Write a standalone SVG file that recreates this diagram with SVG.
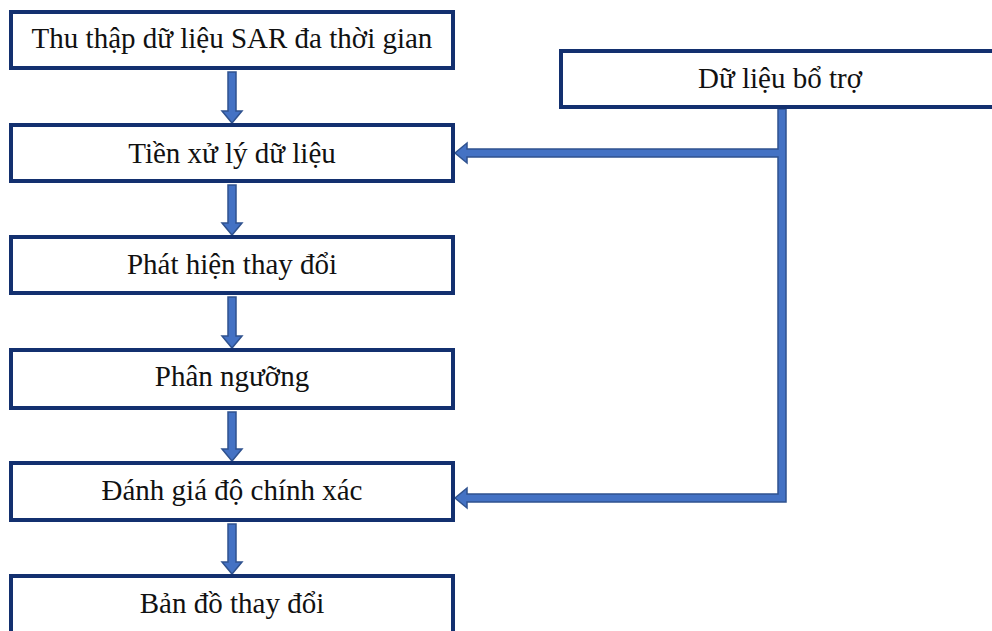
<svg xmlns="http://www.w3.org/2000/svg" width="992" height="631" viewBox="0 0 992 631">
<style>
.box{fill:#ffffff;stroke:#13306f;stroke-width:4}
.lbl{font-family:"Liberation Serif","Times New Roman",serif;font-size:29px;fill:#111111;text-anchor:middle}
.arr{fill:#4472c4;stroke:#2f528f;stroke-width:1.5;stroke-linejoin:miter}
</style>
<rect width="992" height="631" fill="#ffffff"/>
<g id="connectors">
<polygon class="arr" points="228,72 236,72 236,111 242,111 232,123 222,111 228,111"/>
<polygon class="arr" points="228,185 236,185 236,223 242,223 232,235 222,223 228,223"/>
<polygon class="arr" points="228,297 236,297 236,336 242,336 232,348 222,336 228,336"/>
<polygon class="arr" points="228,412 236,412 236,449 242,449 232,461 222,449 228,449"/>
<polygon class="arr" points="228,524 236,524 236,562 242,562 232,574 222,562 228,562"/>
<polygon class="arr" points="778,109 786,109 786,502 467,502 467,508 455,498 467,488 467,494 778,494 778,157 467,157 467,163 455,153 467,143 467,149 778,149"/>
</g>
<g id="n1"><rect class="box" x="11" y="12" width="442" height="56"/><text class="lbl" x="232" y="48">Thu thập dữ liệu SAR đa thời gian</text></g>
<g id="n2"><rect class="box" x="11" y="125" width="442" height="56"/><text class="lbl" x="232" y="163">Tiền xử lý dữ liệu</text></g>
<g id="n3"><rect class="box" x="11" y="237" width="442" height="56"/><text class="lbl" x="232" y="274">Phát hiện thay đổi</text></g>
<g id="n4"><rect class="box" x="11" y="350" width="442" height="58"/><text class="lbl" x="232" y="386">Phân ngưỡng</text></g>
<g id="n5"><rect class="box" x="11" y="463" width="442" height="57"/><text class="lbl" x="232" y="500">Đánh giá độ chính xác</text></g>
<g id="n6"><rect class="box" x="11" y="576" width="442" height="70"/><text class="lbl" x="232" y="613">Bản đồ thay đổi</text></g>
<g id="n7"><rect class="box" x="561" y="51" width="500" height="56"/><text class="lbl" x="780" y="88">Dữ liệu bổ trợ</text></g>
</svg>
